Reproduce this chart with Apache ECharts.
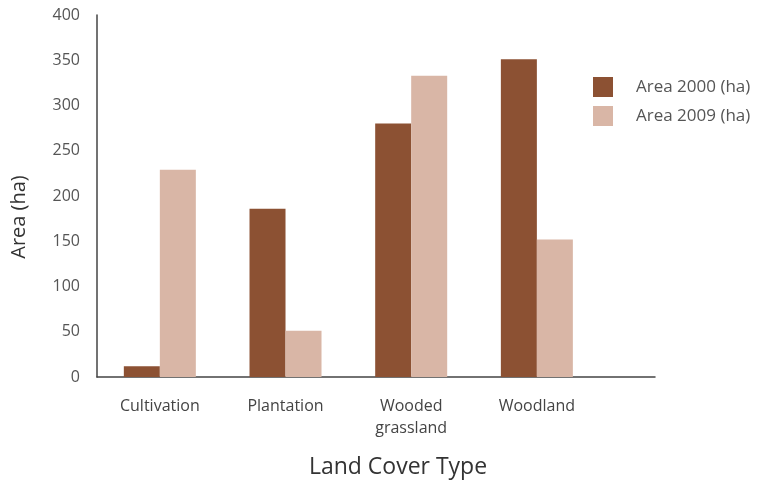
<!DOCTYPE html>
<html>
<head>
<meta charset="utf-8">
<script src="https://cdn.jsdelivr.net/npm/echarts@6/dist/echarts.min.js"></script>
<style>
  html, body { margin: 0; padding: 0; background: #fff; }
  #chart { width: 758px; height: 484px; }
</style>
</head>
<body>
<div id="chart"></div>
<script>
  // categories and values
  var categories = ['Cultivation', 'Plantation', 'Wooded\ngrassland', 'Woodland'];
  var area2000 = [12, 186, 280, 351];
  var area2009 = [229, 51, 333, 152];
  var yTicks = [0, 50, 100, 150, 200, 250, 300, 350, 400];

  function toPoints(values) {
    return values.map(function (v, i) { return [i, v]; });
  }

  var font = '"Open Sans", "Noto Sans", sans-serif';
  var chart = echarts.init(document.getElementById('chart'));

  chart.setOption({
    animation: false,
    backgroundColor: '#ffffff',
    textStyle: { fontFamily: font },
    legend: {
      left: 588,
      top: 72,
      orient: 'vertical',
      itemWidth: 20,
      itemHeight: 20,
      itemGap: 9,
      icon: 'rect',
      textStyle: { color: '#555', fontSize: 17, fontFamily: font, padding: [0, 0, 0, 18] },
      data: ['Area 2000 (ha)', 'Area 2009 (ha)']
    },
    grid: { left: 97, right: 103, top: 15, bottom: 106, containLabel: false },
    xAxis: {
      type: 'value',
      min: -0.5,
      max: 3.94,
      splitLine: { show: false },
      axisLine: { show: true, lineStyle: { color: '#444', width: 1.5 } },
      axisTick: { show: false },
      axisLabel: {
        customValues: [0, 1, 2, 3],
        formatter: function (v) { return categories[Math.round(v)]; },
        color: '#444',
        fontSize: 16,
        lineHeight: 22,
        margin: 18,
        fontFamily: font
      },
      name: 'Land Cover Type',
      nameLocation: 'middle',
      nameGap: 79,
      nameTextStyle: { color: '#333', fontSize: 23, fontFamily: font, padding: [0, 0, 0, 44] }
    },
    yAxis: {
      type: 'value',
      min: 0,
      max: 400,
      interval: 50,
      splitLine: { show: false },
      axisLine: { show: true, onZero: false, lineStyle: { color: '#444', width: 1.5 } },
      axisTick: { show: false },
      axisLabel: {
        color: '#555',
        fontSize: 16,
        margin: 17,
        fontFamily: font,
        formatter: function (v) { return yTicks.indexOf(v) >= 0 ? String(v) : ''; }
      },
      name: 'Area (ha)',
      nameLocation: 'middle',
      nameRotate: 90,
      nameGap: 68,
      nameTextStyle: { color: '#333', fontSize: 20, fontFamily: font, padding: [0, 42, 0, 0] }
    },
    series: [
      {
        name: 'Area 2000 (ha)',
        type: 'bar',
        barWidth: 36,
        barGap: '0%',
        itemStyle: { color: '#8c5133' },
        data: toPoints(area2000)
      },
      {
        name: 'Area 2009 (ha)',
        type: 'bar',
        barWidth: 36,
        barGap: '0%',
        itemStyle: { color: '#d9b6a6' },
        data: toPoints(area2009)
      }
    ]
  });
</script>
</body>
</html>
